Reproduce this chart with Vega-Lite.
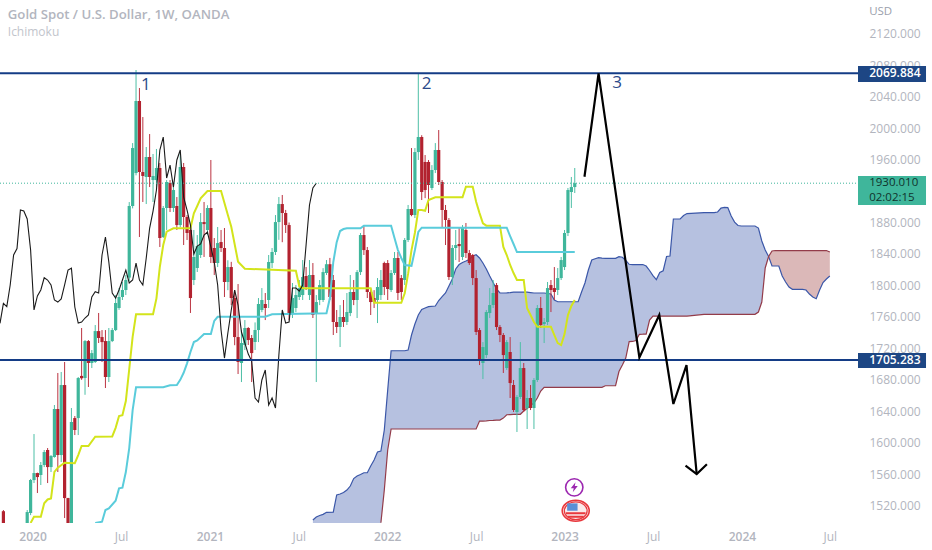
{
"$schema":"https://vega.github.io/schema/vega-lite/v6.json",
"width":858,"height":523,
"autosize":{"type":"none"},
"padding":{"left":0,"top":0,"right":74,"bottom":27},
"background":"white",
"config":{"view":{"stroke":null}},
"datasets":{
"candles":[
{"d":"2019-11-04","o":1513,"c":1476,"h":1514.5,"l":1476},
{"d":"2019-12-23","o":1476,"c":1511.9,"h":1514.5,"l":1476},
{"d":"2019-12-30","o":1510.7,"c":1552.6,"h":1554,"l":1508},
{"d":"2020-01-06","o":1552.6,"c":1561.5,"h":1611.1,"l":1548.8},
{"d":"2020-01-13","o":1561.5,"c":1556.4,"h":1562,"l":1536.1},
{"d":"2020-01-20","o":1559,"c":1571.7,"h":1575.5,"l":1546.3},
{"d":"2020-01-27","o":1571.7,"c":1588.2,"h":1590.8,"l":1569.1},
{"d":"2020-02-03","o":1590.8,"c":1569.1,"h":1593.3,"l":1548.8},
{"d":"2020-02-10","o":1569.1,"c":1583.1,"h":1584.4,"l":1562.8},
{"d":"2020-02-17","o":1581.9,"c":1642.9,"h":1648,"l":1581},
{"d":"2020-02-24","o":1642.9,"c":1584.4,"h":1688.7,"l":1562.8},
{"d":"2020-03-02","o":1584.4,"c":1673.4,"h":1690,"l":1575.5},
{"d":"2020-03-09","o":1673.4,"c":1529.7,"h":1702.7,"l":1504.3},
{"d":"2020-03-16","o":1529.7,"c":1476,"h":1530,"l":1476},
{"d":"2020-03-23","o":1476,"c":1626.4,"h":1644.2,"l":1476},
{"d":"2020-03-30","o":1631.4,"c":1616.2,"h":1634,"l":1609.8},
{"d":"2020-04-06","o":1631.4,"c":1682.3,"h":1683.6,"l":1609.8},
{"d":"2020-04-13","o":1685,"c":1682,"h":1745.9,"l":1680},
{"d":"2020-04-20","o":1682.3,"c":1729.3,"h":1730.6,"l":1661},
{"d":"2020-04-27","o":1729.3,"c":1701.4,"h":1730.6,"l":1670.9},
{"d":"2020-05-04","o":1701.4,"c":1714,"h":1717.9,"l":1695},
{"d":"2020-05-11","o":1702.7,"c":1742,"h":1749.7,"l":1701.4},
{"d":"2020-05-18","o":1742,"c":1733.2,"h":1765,"l":1726.8},
{"d":"2020-05-25","o":1734.4,"c":1728,"h":1743.3,"l":1702.7},
{"d":"2020-06-01","o":1729.3,"c":1683.6,"h":1743.3,"l":1669.6},
{"d":"2020-06-08","o":1683.6,"c":1729.3,"h":1745.9,"l":1677.2},
{"d":"2020-06-15","o":1729.3,"c":1743.3,"h":1745.9,"l":1728},
{"d":"2020-06-22","o":1743.3,"c":1777.7,"h":1787.8,"l":1742},
{"d":"2020-06-29","o":1771.3,"c":1785.3,"h":1796.7,"l":1769},
{"d":"2020-07-06","o":1785.3,"c":1794.2,"h":1804.4,"l":1781.5},
{"d":"2020-07-13","o":1794.2,"c":1806.9,"h":1813.3,"l":1787.8},
{"d":"2020-07-20","o":1810,"c":1901,"h":1906,"l":1806},
{"d":"2020-07-27","o":1901,"c":1974.7,"h":1981,"l":1898},
{"d":"2020-08-03","o":1942.9,"c":2034.5,"h":2073.9,"l":1940},
{"d":"2020-08-10","o":2034.5,"c":1944.2,"h":2051,"l":1861.6},
{"d":"2020-08-17","o":1944.2,"c":1939.2,"h":2014.1,"l":1906.1},
{"d":"2020-08-24","o":1937.9,"c":1963.3,"h":1976,"l":1903.5},
{"d":"2020-08-31","o":1963.3,"c":1937.9,"h":1992.5,"l":1925.1},
{"d":"2020-09-07","o":1934,"c":1939.2,"h":1967.1,"l":1906.1},
{"d":"2020-09-14","o":1934,"c":1949.3,"h":1973.5,"l":1921.3},
{"d":"2020-09-21","o":1949.3,"c":1860.3,"h":1955.7,"l":1848.9},
{"d":"2020-09-28","o":1861.6,"c":1898.5,"h":1901,"l":1860.3},
{"d":"2020-10-05","o":1898.5,"c":1931.5,"h":1934,"l":1870.5},
{"d":"2020-10-12","o":1930.2,"c":1898.5,"h":1934,"l":1893.4},
{"d":"2020-10-19","o":1898.5,"c":1921.3,"h":1930,"l":1893.4},
{"d":"2020-10-26","o":1901,"c":1876.8,"h":1912.4,"l":1870.5},
{"d":"2020-11-02","o":1876.8,"c":1950.6,"h":1968.4,"l":1874.3},
{"d":"2020-11-09","o":1950.6,"c":1887,"h":1955.7,"l":1851.4},
{"d":"2020-11-16","o":1887,"c":1866.7,"h":1889.5,"l":1857.8},
{"d":"2020-11-23","o":1870.5,"c":1784,"h":1876.8,"l":1765},
{"d":"2020-11-30","o":1806.9,"c":1836.2,"h":1870.5,"l":1800.5},
{"d":"2020-12-07","o":1822.2,"c":1850.1,"h":1864.1,"l":1817.1},
{"d":"2020-12-14","o":1838.7,"c":1880.6,"h":1892.1,"l":1834.9},
{"d":"2020-12-21","o":1880.6,"c":1878,"h":1906.1,"l":1836.2},
{"d":"2020-12-28","o":1870.5,"c":1898.5,"h":1902,"l":1864},
{"d":"2021-01-04","o":1898.5,"c":1836.2,"h":1959.5,"l":1828.5},
{"d":"2021-01-11","o":1847.6,"c":1828.5,"h":1860.3,"l":1813.3},
{"d":"2021-01-18","o":1828.5,"c":1853.9,"h":1874.3,"l":1823.4},
{"d":"2021-01-25","o":1855.2,"c":1847.6,"h":1870.5,"l":1842.5},
{"d":"2021-02-01","o":1847.6,"c":1804.4,"h":1873,"l":1785.3},
{"d":"2021-02-08","o":1804.4,"c":1823.4,"h":1832,"l":1794},
{"d":"2021-02-15","o":1823.4,"c":1784,"h":1830,"l":1775},
{"d":"2021-02-22","o":1784,"c":1734.4,"h":1794,"l":1724},
{"d":"2021-03-01","o":1734.4,"c":1702.7,"h":1801.8,"l":1687.4},
{"d":"2021-03-08","o":1701.4,"c":1726.8,"h":1743.3,"l":1677.2},
{"d":"2021-03-15","o":1724.3,"c":1745.9,"h":1756,"l":1717.9},
{"d":"2021-03-22","o":1745.9,"c":1730.6,"h":1747,"l":1724.3},
{"d":"2021-03-29","o":1733.2,"c":1714,"h":1737,"l":1677.2},
{"d":"2021-04-05","o":1728,"c":1743.3,"h":1753,"l":1717.9},
{"d":"2021-04-12","o":1743.3,"c":1776.4,"h":1784,"l":1728},
{"d":"2021-04-19","o":1768.8,"c":1781.5,"h":1796.7,"l":1766},
{"d":"2021-04-26","o":1776.4,"c":1771.3,"h":1790.4,"l":1756},
{"d":"2021-05-03","o":1781.5,"c":1829.8,"h":1838.7,"l":1771.3},
{"d":"2021-05-10","o":1828.5,"c":1842.5,"h":1847.6,"l":1822.2},
{"d":"2021-05-17","o":1842.5,"c":1880.6,"h":1889.5,"l":1838.7},
{"d":"2021-05-24","o":1880.6,"c":1903.5,"h":1912.4,"l":1858},
{"d":"2021-05-31","o":1903.5,"c":1892.1,"h":1915,"l":1855},
{"d":"2021-06-07","o":1892.1,"c":1876.8,"h":1896,"l":1866.7},
{"d":"2021-06-14","o":1876.8,"c":1763.7,"h":1880,"l":1756},
{"d":"2021-06-21","o":1763.7,"c":1784,"h":1803.1,"l":1758.6},
{"d":"2021-06-28","o":1771.3,"c":1787.8,"h":1800.5,"l":1766},
{"d":"2021-07-05","o":1785.3,"c":1796.7,"h":1806.9,"l":1781.5},
{"d":"2021-07-12","o":1787.8,"c":1810.7,"h":1832.3,"l":1781.5},
{"d":"2021-07-19","o":1812,"c":1798,"h":1823.4,"l":1794.2},
{"d":"2021-07-26","o":1787.8,"c":1813.3,"h":1832.3,"l":1781.5},
{"d":"2021-08-02","o":1813.3,"c":1762.4,"h":1828.5,"l":1758.6},
{"d":"2021-08-09","o":1765,"c":1778.9,"h":1787.8,"l":1677.2},
{"d":"2021-08-16","o":1781.5,"c":1800.5,"h":1806.9,"l":1775},
{"d":"2021-08-23","o":1781.5,"c":1817,"h":1822,"l":1779},
{"d":"2021-08-30","o":1815.8,"c":1827,"h":1832.3,"l":1813.3},
{"d":"2021-09-06","o":1827,"c":1785.3,"h":1835,"l":1781.5},
{"d":"2021-09-13","o":1806.9,"c":1753.5,"h":1813.3,"l":1737},
{"d":"2021-09-20","o":1753.5,"c":1747.2,"h":1768.8,"l":1739.5},
{"d":"2021-09-27","o":1747.2,"c":1759.9,"h":1775,"l":1721.7},
{"d":"2021-10-04","o":1759.9,"c":1753.5,"h":1781.5,"l":1747.2},
{"d":"2021-10-11","o":1753.5,"c":1766.2,"h":1790.4,"l":1749.7},
{"d":"2021-10-18","o":1764.9,"c":1791.7,"h":1813.3,"l":1761},
{"d":"2021-10-25","o":1791.7,"c":1781.5,"h":1806.9,"l":1775},
{"d":"2021-11-01","o":1781.5,"c":1817,"h":1819.6,"l":1758.6},
{"d":"2021-11-08","o":1817,"c":1864.1,"h":1866.7,"l":1813.3},
{"d":"2021-11-15","o":1864.1,"c":1845,"h":1876.8,"l":1838.7},
{"d":"2021-11-22","o":1845,"c":1791.7,"h":1848.9,"l":1784},
{"d":"2021-11-29","o":1791.7,"c":1778.9,"h":1796.7,"l":1762.4},
{"d":"2021-12-06","o":1784,"c":1778.9,"h":1794,"l":1771.3},
{"d":"2021-12-13","o":1781.5,"c":1798,"h":1809.4,"l":1752.2},
{"d":"2021-12-20","o":1787.8,"c":1806.9,"h":1819.6,"l":1781.5},
{"d":"2021-12-27","o":1828.5,"c":1798,"h":1830.2,"l":1787.8},
{"d":"2022-01-03","o":1828.5,"c":1795.5,"h":1832.3,"l":1781.5},
{"d":"2022-01-10","o":1794.2,"c":1815.8,"h":1819.6,"l":1791.7},
{"d":"2022-01-17","o":1815.8,"c":1834.9,"h":1842.5,"l":1813.3},
{"d":"2022-01-24","o":1834.9,"c":1790.4,"h":1842.5,"l":1781.5},
{"d":"2022-01-31","o":1809.4,"c":1791.7,"h":1813.3,"l":1781.5},
{"d":"2022-02-07","o":1806.9,"c":1857.8,"h":1860.3,"l":1800.5},
{"d":"2022-02-14","o":1857.8,"c":1897.2,"h":1902.3,"l":1855.2},
{"d":"2022-02-21","o":1897.2,"c":1889.5,"h":1974.7,"l":1888},
{"d":"2022-02-28","o":1889.5,"c":1969.6,"h":1974.7,"l":1885.7},
{"d":"2022-03-07","o":1969.6,"c":1988.7,"h":2070,"l":1959.5},
{"d":"2022-03-14","o":1988.7,"c":1918.8,"h":1991,"l":1908.6},
{"d":"2022-03-21","o":1957,"c":1921.3,"h":1965.8,"l":1911},
{"d":"2022-03-28","o":1957,"c":1927.7,"h":1959.5,"l":1892.1},
{"d":"2022-04-04","o":1923.9,"c":1946.8,"h":1953,"l":1921.3},
{"d":"2022-04-11","o":1946.8,"c":1972.2,"h":1981,"l":1942.9},
{"d":"2022-04-18","o":1972.2,"c":1931.5,"h":1997.6,"l":1927.7},
{"d":"2022-04-25","o":1931.5,"c":1895.9,"h":1934,"l":1873},
{"d":"2022-05-02","o":1895.9,"c":1883.2,"h":1902.3,"l":1851.4},
{"d":"2022-05-09","o":1883.2,"c":1810.7,"h":1885.7,"l":1806.9},
{"d":"2022-05-16","o":1810.7,"c":1847.6,"h":1851.4,"l":1800.5},
{"d":"2022-05-23","o":1847.6,"c":1851.4,"h":1870.5,"l":1832.3},
{"d":"2022-05-30","o":1852.7,"c":1850,"h":1873,"l":1829.8},
{"d":"2022-06-06","o":1836.2,"c":1873,"h":1876.8,"l":1832.3},
{"d":"2022-06-13","o":1870.5,"c":1841.2,"h":1879.4,"l":1834.9},
{"d":"2022-06-20","o":1841.2,"c":1828.5,"h":1845,"l":1826},
{"d":"2022-06-27","o":1838.7,"c":1809.4,"h":1840,"l":1800.5},
{"d":"2022-07-04","o":1809.4,"c":1740.8,"h":1819.6,"l":1737},
{"d":"2022-07-11","o":1743.3,"c":1705.2,"h":1745.9,"l":1698.8},
{"d":"2022-07-18","o":1701.4,"c":1721.7,"h":1728,"l":1681},
{"d":"2022-07-25","o":1711.5,"c":1766.2,"h":1768.8,"l":1707.7},
{"d":"2022-08-01","o":1764.9,"c":1775.1,"h":1796.7,"l":1758.6},
{"d":"2022-08-08","o":1775.1,"c":1790.4,"h":1806.9,"l":1771.3},
{"d":"2022-08-15","o":1800.5,"c":1747.2,"h":1803.1,"l":1743.3},
{"d":"2022-08-22","o":1747.2,"c":1737,"h":1749.7,"l":1728},
{"d":"2022-08-29","o":1737,"c":1711.5,"h":1739.5,"l":1688.7},
{"d":"2022-09-05","o":1695,"c":1728,"h":1730.6,"l":1692.5},
{"d":"2022-09-12","o":1715.4,"c":1675.9,"h":1734.4,"l":1656.9},
{"d":"2022-09-19","o":1673.4,"c":1641.6,"h":1679.8,"l":1639.1},
{"d":"2022-09-26","o":1639.1,"c":1658.2,"h":1660.7,"l":1613.7},
{"d":"2022-10-03","o":1658.2,"c":1695,"h":1728,"l":1655.6},
{"d":"2022-10-10","o":1695,"c":1641.6,"h":1701.4,"l":1639.1},
{"d":"2022-10-17","o":1644.2,"c":1656.9,"h":1667,"l":1617.5},
{"d":"2022-10-24","o":1656.9,"c":1644.2,"h":1673.4,"l":1641.6},
{"d":"2022-10-31","o":1644.2,"c":1679.8,"h":1682.3,"l":1617.5},
{"d":"2022-11-07","o":1679.8,"c":1771.3,"h":1775.1,"l":1677.2},
{"d":"2022-11-14","o":1771.3,"c":1749.7,"h":1785.3,"l":1745.9},
{"d":"2022-11-21","o":1751,"c":1753.5,"h":1758.6,"l":1726.8},
{"d":"2022-11-28","o":1753.5,"c":1796.7,"h":1804.4,"l":1749.7},
{"d":"2022-12-05","o":1800.5,"c":1794.2,"h":1806.9,"l":1766.2},
{"d":"2022-12-12","o":1796.7,"c":1791.7,"h":1823.4,"l":1781.5},
{"d":"2022-12-19","o":1794.2,"c":1809.4,"h":1822.2,"l":1787.8},
{"d":"2022-12-26","o":1809.4,"c":1832.3,"h":1836.2,"l":1806.9},
{"d":"2023-01-02","o":1823.4,"c":1866.7,"h":1870.5,"l":1819.6},
{"d":"2023-01-09","o":1866.7,"c":1921.3,"h":1923.9,"l":1862.8},
{"d":"2023-01-16","o":1918.8,"c":1925.1,"h":1937.9,"l":1898.5},
{"d":"2023-01-23","o":1925.1,"c":1930,"h":1949.3,"l":1917.5}
],
"cloud":[
{"d":"2021-08-02","a":1501.8,"b":1400},{"d":"2021-08-09","a":1505.6,"b":1400},{"d":"2021-08-16","a":1507.5,"b":1400},{"d":"2021-08-23","a":1509,"b":1400},{"d":"2021-08-30","a":1511.6,"b":1400},{"d":"2021-09-13","a":1511.9,"b":1400},{"d":"2021-09-20","a":1533.6,"b":1400},{"d":"2021-09-27","a":1534.8,"b":1400},{"d":"2021-10-04","a":1536.7,"b":1400},{"d":"2021-10-11","a":1539.9,"b":1400},{"d":"2021-10-18","a":1545,"b":1400},{"d":"2021-10-25","a":1554.5,"b":1400},{"d":"2021-11-01","a":1557.7,"b":1400},{"d":"2021-11-08","a":1559.6,"b":1400},{"d":"2021-11-15","a":1561.9,"b":1400},{"d":"2021-11-22","a":1561.9,"b":1400},{"d":"2021-11-29","a":1570.4,"b":1400},{"d":"2021-12-06","a":1578,"b":1400},{"d":"2021-12-13","a":1588.2,"b":1400},
{"d":"2021-12-20","a":1589.5,"b":1498.3},{"d":"2021-12-27","a":1616.2,"b":1539.9},{"d":"2022-01-03","a":1667,"b":1590.8},{"d":"2022-01-10","a":1717,"b":1617.5},{"d":"2022-02-07","a":1717,"b":1617.5},{"d":"2022-02-14","a":1717.9,"b":1617.5},{"d":"2022-02-21","a":1737,"b":1617.5},{"d":"2022-02-28","a":1751,"b":1617.5},{"d":"2022-03-07","a":1762.4,"b":1617.5},{"d":"2022-03-14","a":1769.4,"b":1617.5},{"d":"2022-03-21","a":1771.3,"b":1617.5},{"d":"2022-03-28","a":1773,"b":1617.5},{"d":"2022-04-11","a":1773.9,"b":1617.5},{"d":"2022-04-18","a":1780.8,"b":1617.5},{"d":"2022-04-25","a":1785.9,"b":1617.5},{"d":"2022-05-02","a":1790.4,"b":1617.5},{"d":"2022-05-09","a":1799.3,"b":1617.5},{"d":"2022-05-16","a":1808.2,"b":1617.5},{"d":"2022-05-23","a":1820.9,"b":1617.5},{"d":"2022-05-30","a":1826.6,"b":1617.5},{"d":"2022-06-06","a":1829.2,"b":1617.5},{"d":"2022-06-13","a":1831,"b":1617.5},{"d":"2022-06-20","a":1833,"b":1617.5},{"d":"2022-06-27","a":1837.4,"b":1617.5},{"d":"2022-07-04","a":1839,"b":1617.5},
{"d":"2022-07-11","a":1834.9,"b":1627.6},{"d":"2022-07-18","a":1828.5,"b":1627.6},{"d":"2022-07-25","a":1820.9,"b":1627.9},{"d":"2022-08-01","a":1812,"b":1628.3},{"d":"2022-08-08","a":1803.7,"b":1628.5},{"d":"2022-08-15","a":1795.5,"b":1628.9},{"d":"2022-08-22","a":1790.4,"b":1628.9},{"d":"2022-08-29","a":1790.4,"b":1631.4},{"d":"2022-09-05","a":1790.6,"b":1635.6},{"d":"2022-09-12","a":1791,"b":1635.9},{"d":"2022-09-19","a":1791.6,"b":1636.2},{"d":"2022-10-03","a":1791.6,"b":1636.2},{"d":"2022-10-10","a":1791.6,"b":1640.4},{"d":"2022-10-17","a":1791.6,"b":1643.5},{"d":"2022-10-24","a":1791,"b":1647.3},{"d":"2022-10-31","a":1790.4,"b":1650.5},{"d":"2022-11-07","a":1790.4,"b":1656.9},{"d":"2022-11-14","a":1790.4,"b":1665.8},{"d":"2022-11-21","a":1790.4,"b":1670.5},{"d":"2022-12-05","a":1789.1,"b":1670.5},{"d":"2022-12-12","a":1781.5,"b":1670.5},{"d":"2022-12-19","a":1779.3,"b":1670.5},
{"d":"2023-01-30","a":1779.3,"b":1670.5},{"d":"2023-02-06","a":1791.6,"b":1670.5},{"d":"2023-02-13","a":1803.1,"b":1670.5},{"d":"2023-02-20","a":1819.6,"b":1670.5},{"d":"2023-02-27","a":1832.3,"b":1670.5},{"d":"2023-03-06","a":1834,"b":1670.5},{"d":"2023-03-13","a":1835.3,"b":1670.5},{"d":"2023-03-20","a":1834.8,"b":1670.5},{"d":"2023-03-27","a":1834.5,"b":1672.5},{"d":"2023-04-17","a":1834.5,"b":1672.5},{"d":"2023-04-24","a":1836.5,"b":1690.6},{"d":"2023-05-01","a":1835.9,"b":1698.8},{"d":"2023-05-08","a":1831.7,"b":1707.7},{"d":"2023-05-15","a":1826.9,"b":1728.7},{"d":"2023-05-22","a":1826.6,"b":1728.8},{"d":"2023-05-29","a":1826.6,"b":1730},{"d":"2023-06-05","a":1826.6,"b":1737.9},{"d":"2023-06-12","a":1826.6,"b":1738},{"d":"2023-06-19","a":1824.7,"b":1738.2},{"d":"2023-06-26","a":1819,"b":1756},{"d":"2023-07-03","a":1812.6,"b":1760.9},{"d":"2023-07-10","a":1807.5,"b":1761.1},{"d":"2023-07-17","a":1816.4,"b":1761.1},{"d":"2023-07-24","a":1818.7,"b":1761.1},{"d":"2023-07-31","a":1836.8,"b":1761.1},{"d":"2023-08-07","a":1837.4,"b":1761.1},{"d":"2023-08-14","a":1884.5,"b":1761.1},{"d":"2023-08-28","a":1884.5,"b":1761.1},{"d":"2023-09-04","a":1888.9,"b":1761.1},{"d":"2023-09-11","a":1891.4,"b":1761.1},{"d":"2023-10-16","a":1892.5,"b":1763.3},{"d":"2023-11-06","a":1892.5,"b":1763.3},{"d":"2023-11-13","a":1893.4,"b":1763.3},{"d":"2023-11-20","a":1898.4,"b":1763.3},{"d":"2023-11-27","a":1899.3,"b":1763.3},{"d":"2023-12-04","a":1899,"b":1763.3},{"d":"2023-12-11","a":1888.3,"b":1763.3},{"d":"2023-12-18","a":1880.6,"b":1763.3},{"d":"2023-12-25","a":1876.2,"b":1763.3},{"d":"2024-01-01","a":1875.6,"b":1763.3},{"d":"2024-01-29","a":1875.6,"b":1763.3},{"d":"2024-02-05","a":1873,"b":1766.2},{"d":"2024-02-12","a":1856.5,"b":1778.9},{"d":"2024-02-19","a":1845,"b":1822.2},{"d":"2024-02-26","a":1836.8,"b":1836.8},
{"d":"2024-03-04","a":1824.7,"b":1843.8},{"d":"2024-03-11","a":1824.7,"b":1844.4},{"d":"2024-03-18","a":1824.7,"b":1844.4},{"d":"2024-03-25","a":1812,"b":1844.4},{"d":"2024-04-01","a":1804.4,"b":1844.4},{"d":"2024-04-08","a":1798,"b":1844.4},{"d":"2024-04-15","a":1795.1,"b":1844.4},{"d":"2024-05-06","a":1795.1,"b":1844.4},{"d":"2024-05-13","a":1794.2,"b":1844.4},{"d":"2024-05-20","a":1789.1,"b":1844.4},{"d":"2024-05-27","a":1785.3,"b":1844.4},{"d":"2024-06-03","a":1783.1,"b":1844.4},{"d":"2024-06-10","a":1794.2,"b":1844.4},{"d":"2024-06-17","a":1803.7,"b":1844.4},{"d":"2024-06-24","a":1808.2,"b":1844.4},{"d":"2024-07-01","a":1812,"b":1842.5}
],
"yellow":[
{"d":"2019-12-30","p":1498},{"d":"2020-01-06","p":1506},{"d":"2020-01-20","p":1506},{"d":"2020-01-27","p":1523},{"d":"2020-02-03","p":1527.9},{"d":"2020-02-10","p":1529.3},{"d":"2020-02-17","p":1563},{"d":"2020-02-24","p":1568.3},{"d":"2020-03-09","p":1574.6},{"d":"2020-03-30","p":1574},{"d":"2020-04-06","p":1584.4},{"d":"2020-04-13","p":1595.9},{"d":"2020-04-27","p":1595.9},{"d":"2020-05-11","p":1607.7},{"d":"2020-06-15","p":1608},{"d":"2020-06-22","p":1619},{"d":"2020-06-29","p":1634},{"d":"2020-07-06","p":1635},{"d":"2020-07-13","p":1653},{"d":"2020-07-20","p":1693.7},{"d":"2020-07-27","p":1734.5},{"d":"2020-08-03","p":1763.3},{"d":"2020-09-07","p":1763.3},{"d":"2020-09-14","p":1783.6},{"d":"2020-09-21","p":1823.8},{"d":"2020-09-28","p":1851.4},{"d":"2020-10-05","p":1868.3},{"d":"2020-10-19","p":1872.6},{"d":"2020-11-23","p":1872.6},{"d":"2020-11-30","p":1891.7},{"d":"2020-12-07","p":1901},{"d":"2020-12-14","p":1910.8},{"d":"2020-12-28","p":1920},{"d":"2021-01-25","p":1920},{"d":"2021-02-08","p":1889.5},{"d":"2021-02-15","p":1874.7},{"d":"2021-03-01","p":1830.2},{"d":"2021-03-15","p":1821.3},{"d":"2021-06-28","p":1818.7},{"d":"2021-07-05","p":1799},{"d":"2021-07-12","p":1796.6},{"d":"2021-11-29","p":1796.6},{"d":"2021-12-06","p":1778.1},{"d":"2022-01-24","p":1778.1},{"d":"2022-01-31","p":1778},{"d":"2022-02-07","p":1790},{"d":"2022-02-14","p":1815},{"d":"2022-02-21","p":1845},{"d":"2022-02-28","p":1867},{"d":"2022-03-07","p":1896},{"d":"2022-03-14","p":1896},{"d":"2022-03-21","p":1895},{"d":"2022-03-28","p":1908.6},{"d":"2022-04-11","p":1912},{"d":"2022-06-06","p":1912},{"d":"2022-06-13","p":1925.5},{"d":"2022-06-27","p":1925.5},{"d":"2022-07-04","p":1906.5},{"d":"2022-07-11","p":1892},{"d":"2022-07-18","p":1879},{"d":"2022-07-25","p":1876},{"d":"2022-08-22","p":1876},{"d":"2022-08-29","p":1849},{"d":"2022-09-05","p":1838.7},{"d":"2022-09-12","p":1826},{"d":"2022-09-19","p":1815.8},{"d":"2022-09-26","p":1806.9},{"d":"2022-10-10","p":1806.9},{"d":"2022-10-17","p":1771},{"d":"2022-10-24","p":1762.4},{"d":"2022-10-31","p":1753.5},{"d":"2022-11-07","p":1747.5},{"d":"2022-12-05","p":1747.5},{"d":"2022-12-12","p":1737},{"d":"2022-12-19","p":1726.8},{"d":"2022-12-26","p":1724.3},{"d":"2023-01-02","p":1738.2},{"d":"2023-01-09","p":1762.4},{"d":"2023-01-16","p":1773.9},{"d":"2023-01-23","p":1781.5}
],
"cyan":[
{"d":"2020-05-11","p":1498},{"d":"2020-05-25","p":1499.6},{"d":"2020-06-01","p":1514.5},{"d":"2020-06-08","p":1516.6},{"d":"2020-06-22","p":1526.3},{"d":"2020-06-29","p":1542},{"d":"2020-07-06","p":1542.8},{"d":"2020-07-13","p":1562.8},{"d":"2020-07-20","p":1593.3},{"d":"2020-07-27","p":1641.6},{"d":"2020-08-03","p":1670.5},{"d":"2020-09-28","p":1670.5},{"d":"2020-10-12","p":1673},{"d":"2020-10-26","p":1673.4},{"d":"2020-11-02","p":1680},{"d":"2020-11-09","p":1689},{"d":"2020-11-16","p":1701},{"d":"2020-11-23","p":1715.4},{"d":"2020-11-30","p":1728},{"d":"2020-12-07","p":1730},{"d":"2020-12-21","p":1738.2},{"d":"2021-01-04","p":1738.2},{"d":"2021-01-11","p":1755},{"d":"2021-01-18","p":1760.2},{"d":"2021-04-26","p":1760.2},{"d":"2021-05-10","p":1763.3},{"d":"2021-08-30","p":1764.6},{"d":"2021-09-06","p":1784},{"d":"2021-09-13","p":1829.8},{"d":"2021-09-20","p":1855},{"d":"2021-09-27","p":1869.2},{"d":"2021-10-04","p":1871.7},{"d":"2021-10-11","p":1872.6},{"d":"2021-11-08","p":1872.6},{"d":"2021-11-15","p":1876},{"d":"2022-01-10","p":1876},{"d":"2022-01-17","p":1860.3},{"d":"2022-01-24","p":1845},{"d":"2022-01-31","p":1834.9},{"d":"2022-02-07","p":1826},{"d":"2022-02-21","p":1825},{"d":"2022-02-28","p":1845},{"d":"2022-03-07","p":1868},{"d":"2022-03-14","p":1873.4},{"d":"2022-09-05","p":1873.4},{"d":"2022-09-12","p":1862.8},{"d":"2022-09-19","p":1852.7},{"d":"2022-09-26","p":1842.5},{"d":"2023-01-23","p":1842.5}
],
"black":[
{"d":"2019-10-28","p":1751.9},{"d":"2019-11-04","p":1777.3},{"d":"2019-11-11","p":1773},{"d":"2019-11-18","p":1800.6},{"d":"2019-11-25","p":1838.7},{"d":"2019-12-02","p":1847},{"d":"2019-12-09","p":1895.9},{"d":"2019-12-16","p":1894.6},{"d":"2019-12-23","p":1884.5},{"d":"2019-12-30","p":1845},{"d":"2020-01-06","p":1768.8},{"d":"2020-01-13","p":1786.6},{"d":"2020-01-20","p":1794.2},{"d":"2020-01-27","p":1809.8},{"d":"2020-02-03","p":1806.9},{"d":"2020-02-10","p":1800.6},{"d":"2020-02-17","p":1781.5},{"d":"2020-02-24","p":1778.9},{"d":"2020-03-02","p":1782.8},{"d":"2020-03-09","p":1800.6},{"d":"2020-03-16","p":1819.6},{"d":"2020-03-23","p":1822},{"d":"2020-03-30","p":1772.6},{"d":"2020-04-06","p":1752.2},{"d":"2020-04-13","p":1753.5},{"d":"2020-04-20","p":1758.6},{"d":"2020-04-27","p":1762.4},{"d":"2020-05-04","p":1785.3},{"d":"2020-05-11","p":1792},{"d":"2020-05-18","p":1790.4},{"d":"2020-05-25","p":1838.7},{"d":"2020-06-01","p":1861.6},{"d":"2020-06-08","p":1829.8},{"d":"2020-06-15","p":1790.4},{"d":"2020-06-22","p":1784},{"d":"2020-06-29","p":1794.2},{"d":"2020-07-06","p":1806.9},{"d":"2020-07-13","p":1819.6},{"d":"2020-07-20","p":1803.1},{"d":"2020-07-27","p":1806.9},{"d":"2020-08-03","p":1828.5},{"d":"2020-08-10","p":1806.9},{"d":"2020-08-17","p":1800.6},{"d":"2020-08-24","p":1834.9},{"d":"2020-08-31","p":1873},{"d":"2020-09-07","p":1894.6},{"d":"2020-09-14","p":1921.3},{"d":"2020-09-21","p":1972.2},{"d":"2020-09-28","p":1988.7},{"d":"2020-10-05","p":1936.6},{"d":"2020-10-12","p":1953.1},{"d":"2020-10-19","p":1925.1},{"d":"2020-10-26","p":1959.5},{"d":"2020-11-02","p":1972.2},{"d":"2020-11-09","p":1912.4},{"d":"2020-11-16","p":1895.9},{"d":"2020-11-23","p":1876.8},{"d":"2020-11-30","p":1840},{"d":"2020-12-07","p":1850.1},{"d":"2020-12-14","p":1852.7},{"d":"2020-12-21","p":1864.1},{"d":"2020-12-28","p":1867.9},{"d":"2021-01-04","p":1848.9},{"d":"2021-01-11","p":1829.8},{"d":"2021-01-18","p":1800.6},{"d":"2021-01-25","p":1743.3},{"d":"2021-02-01","p":1707.7},{"d":"2021-02-08","p":1739.5},{"d":"2021-02-15","p":1768.8},{"d":"2021-02-22","p":1794.2},{"d":"2021-03-01","p":1775.1},{"d":"2021-03-08","p":1740.8},{"d":"2021-03-15","p":1726.8},{"d":"2021-03-22","p":1712.8},{"d":"2021-03-29","p":1703.9},{"d":"2021-04-05","p":1656.9},{"d":"2021-04-12","p":1651.8},{"d":"2021-04-19","p":1679.8},{"d":"2021-04-26","p":1692.5},{"d":"2021-05-03","p":1648},{"d":"2021-05-10","p":1656.9},{"d":"2021-05-17","p":1644.2},{"d":"2021-05-24","p":1711.5},{"d":"2021-05-31","p":1768.8},{"d":"2021-06-07","p":1752.2},{"d":"2021-06-14","p":1753.5},{"d":"2021-06-21","p":1796.7},{"d":"2021-06-28","p":1796.7},{"d":"2021-07-05","p":1792.9},{"d":"2021-07-12","p":1800.6},{"d":"2021-07-19","p":1851.4},{"d":"2021-07-26","p":1902.3},{"d":"2021-08-02","p":1923.9},{"d":"2021-08-09","p":1930}
],
"levels":[{"d":"2019-10-28","e":"2024-08-28","p":2069.884},{"d":"2019-10-28","e":"2024-08-28","p":1705.283}],
"last":[{"d":"2019-10-28","e":"2024-08-28","p":1930.01}],
"arrow":[
{"d":"2023-02-12","p":1938.2,"g":"main"},{"d":"2023-03-13","p":2069.7,"g":"main"},{"d":"2023-06-05","p":1708.6,"g":"main"},{"d":"2023-07-16","p":1762.4,"g":"main"},{"d":"2023-08-14","p":1649.3,"g":"main"},{"d":"2023-09-10","p":1698.8,"g":"main"},{"d":"2023-10-01","p":1560.2,"g":"main"},
{"d":"2023-09-08","p":1570.8,"g":"head"},{"d":"2023-10-01","p":1560.2,"g":"head"},{"d":"2023-10-22","p":1572.6,"g":"head"}
],
"tags":[{"d":"2024-08-28","e":"2025-01-15","p":2079,"q":2058.6},{"d":"2024-08-28","e":"2025-01-15","p":1714.1,"q":1695}],
"lastTag":[{"d":"2024-08-28","e":"2025-01-15","p":1939.1,"q":1902.3}],
"bolt":[{"d":"2023-01-22","p":1543.3}],
"flag":[{"d":"2023-01-25","p":1513.6}]
},
"encoding":{
"x":{"field":"d","type":"temporal","title":null,
"scale":{"domain":["2019-10-28","2024-08-28"],"padding":0},
"axis":{"domain":false,"ticks":false,"grid":false,"labelAngle":0,"labelPadding":8,"labelFlush":false,"labelOverlap":false,
"values":["2020-01-03","2020-07-03","2021-01-02","2021-07-04","2022-01-02","2022-07-04","2023-01-02","2023-07-03","2024-01-02","2024-07-01"],
"labelExpr":"month(datum.value)==6 ? 'Jul' : timeFormat(datum.value,'%Y')",
"labelFont":"Open Sans","labelFontSize":12,"labelColor":"#b2b5be",
"labelFontWeight":{"condition":{"test":"month(datum.value)==0","value":600},"value":400}}},
"y":{"field":"p","type":"quantitative","title":null,
"scale":{"domain":[1498,2162.9],"nice":false,"zero":false},
"axis":{"orient":"right","domain":false,"ticks":false,"grid":false,"labelPadding":11,"labelFlush":false,"labelOverlap":false,
"values":[1520,1560,1600,1640,1680,1720,1760,1800,1840,1880,1960,2000,2040,2080,2120],"format":".3f",
"labelFont":"Open Sans","labelFontSize":12,"labelColor":"#b2b5be"}}
},
"layer":[
{"data":{"name":"cloud"},"transform":[{"filter":"datum.a>=datum.b"}],"mark":{"type":"area","color":"#b6c1e0","clip":true},
 "encoding":{"y":{"field":"a","type":"quantitative","title":null,"scale":{"domain":[1498,2162.9],"nice":false,"zero":false}},"y2":{"field":"b"}}},
{"data":{"name":"cloud"},"transform":[{"filter":"datum.b>=datum.a"}],"mark":{"type":"area","color":"#dbb8b8","clip":true},
 "encoding":{"y":{"field":"a","type":"quantitative","title":null,"scale":{"domain":[1498,2162.9],"nice":false,"zero":false}},"y2":{"field":"b"}}},
{"data":{"name":"cloud"},"mark":{"type":"line","color":"#3b57a8","strokeWidth":1.2,"clip":true},
 "encoding":{"y":{"field":"a","type":"quantitative","title":null,"scale":{"domain":[1498,2162.9],"nice":false,"zero":false}}}},
{"data":{"name":"cloud"},"transform":[{"filter":"datum.b>1400"}],"mark":{"type":"line","color":"#933c4a","strokeWidth":1.2,"clip":true},
 "encoding":{"y":{"field":"b","type":"quantitative","title":null,"scale":{"domain":[1498,2162.9],"nice":false,"zero":false}}}},
{"data":{"name":"candles"},"mark":{"type":"rule","strokeWidth":1,"clip":true},
 "encoding":{"y":{"field":"l","type":"quantitative","title":null,"scale":{"domain":[1498,2162.9],"nice":false,"zero":false}},"y2":{"field":"h"},
 "color":{"condition":{"test":"datum.c>=datum.o","value":"#4dbfa6"},"value":"#bb3341"}}},
{"data":{"name":"candles"},"mark":{"type":"bar","size":3.2,"clip":true},
 "encoding":{"y":{"field":"o","type":"quantitative","title":null,"scale":{"domain":[1498,2162.9],"nice":false,"zero":false}},"y2":{"field":"c"},
 "color":{"condition":{"test":"datum.c>=datum.o","value":"#3fb69b"},"value":"#b2222f"}}},
{"data":{"name":"yellow"},"mark":{"type":"line","color":"#d3e41b","strokeWidth":2,"clip":true}},
{"data":{"name":"cyan"},"mark":{"type":"line","color":"#5accdb","strokeWidth":2,"clip":true}},
{"data":{"name":"black"},"mark":{"type":"line","color":"#1a1a1a","strokeWidth":1.1,"clip":true}},
{"data":{"name":"last"},"mark":{"type":"rule","color":"#3fb69b","strokeWidth":1,"strokeDash":[1,2]},"encoding":{"x2":{"field":"e"}}},
{"data":{"name":"levels"},"mark":{"type":"rule","color":"#143c86","strokeWidth":2},"encoding":{"x2":{"field":"e"}}},
{"data":{"name":"arrow"},"mark":{"type":"line","color":"#000000","strokeWidth":2.2},"encoding":{"detail":{"field":"g"}}},
{"data":{"values":[{"d":"2020-08-23","p":2054.8,"t":"1"},{"d":"2022-03-24","p":2055.7,"t":"2"},{"d":"2023-04-20","p":2057,"t":"3"}]},
 "mark":{"type":"text","font":"Open Sans","fontSize":17,"color":"#2c4a8a","align":"center","baseline":"middle"},"encoding":{"text":{"field":"t"}}},
{"data":{"values":[{"d":"2019-11-13","p":2143.8,"t":"Gold Spot / U.S. Dollar, 1W, OANDA"}]},
 "mark":{"type":"text","font":"Open Sans","fontSize":13.2,"fontWeight":600,"color":"#b2b5be","align":"left","baseline":"middle"},"encoding":{"text":{"field":"t"}}},
{"data":{"values":[{"d":"2019-11-13","p":2122.2,"t":"Ichimoku"}]},
 "mark":{"type":"text","font":"Open Sans","fontSize":12,"color":"#c2c5cc","align":"left","baseline":"middle"},"encoding":{"text":{"field":"t"}}},
{"data":{"values":[{"d":"2024-09-20","p":2147.6,"t":"USD"}]},
 "mark":{"type":"text","font":"Open Sans","fontSize":11.5,"color":"#9aa0ac","align":"left","baseline":"middle"},"encoding":{"text":{"field":"t"}}},
{"data":{"name":"tags"},"mark":{"type":"rect","color":"#1d4684"},"encoding":{"x2":{"field":"e"},"y2":{"field":"q"}}},
{"data":{"name":"lastTag"},"mark":{"type":"rect","color":"#3fb69b"},"encoding":{"x2":{"field":"e"},"y2":{"field":"q"}}},
{"data":{"values":[{"d":"2024-09-20","p":2069.884,"t":"2069.884"},{"d":"2024-09-20","p":1705.283,"t":"1705.283"}]},
 "mark":{"type":"text","font":"Open Sans","fontSize":12,"fontWeight":600,"color":"#ffffff","align":"left","baseline":"middle"},"encoding":{"text":{"field":"t"}}},
{"data":{"values":[{"d":"2024-09-20","p":1930.5,"t":"1930.010"},{"d":"2024-09-20","p":1911.5,"t":"02:02:15"}]},
 "mark":{"type":"text","font":"Open Sans","fontSize":11.5,"color":"#10332d","align":"left","baseline":"middle"},"encoding":{"text":{"field":"t"}}},
{"data":{"name":"bolt"},"mark":{"type":"point","shape":"circle","size":300,"filled":false,"opacity":1,"color":"#9c27b0","strokeWidth":1.6}},
{"data":{"name":"bolt"},"mark":{"type":"point","shape":"M0.25,-1 L-0.7,0.2 L-0.1,0.2 L-0.3,1 L0.7,-0.25 L0.1,-0.25 Z","size":100,"filled":true,"opacity":1,"color":"#9c27b0"}},
{"data":{"name":"flag"},"mark":{"type":"point","shape":"M-1,0 A1,0.78 0 1,1 1,0 A1,0.78 0 1,1 -1,0 Z","size":729,"filled":true,"opacity":1,"color":"#fbeaea"}},
{"data":{"name":"flag"},"mark":{"type":"point","shape":"M-1,0 A1,0.78 0 1,1 1,0 A1,0.78 0 1,1 -1,0 Z","size":729,"filled":false,"opacity":1,"color":"#e8383d","strokeWidth":1.6}},
{"data":{"name":"flag"},"mark":{"type":"point","shape":"M-1,0 A1,0.78 0 1,1 1,0 A1,0.78 0 1,1 -1,0 Z","size":520,"filled":false,"opacity":1,"color":"#e8383d","strokeWidth":1.2}},
{"data":{"name":"flag"},"mark":{"type":"point","shape":"M-0.8,0.12 L0.8,0.12 L0.8,0.28 L-0.8,0.28 Z M-0.65,0.42 L0.65,0.42 L0.65,0.58 L-0.65,0.58 Z","size":600,"filled":true,"opacity":1,"color":"#e8383d"}},
{"data":{"name":"flag"},"mark":{"type":"point","shape":"M-0.7,-0.6 L0.15,-0.6 L0.15,0 L-0.7,0 Z","size":600,"filled":true,"opacity":1,"color":"#5b8fd6"}}
]
}
